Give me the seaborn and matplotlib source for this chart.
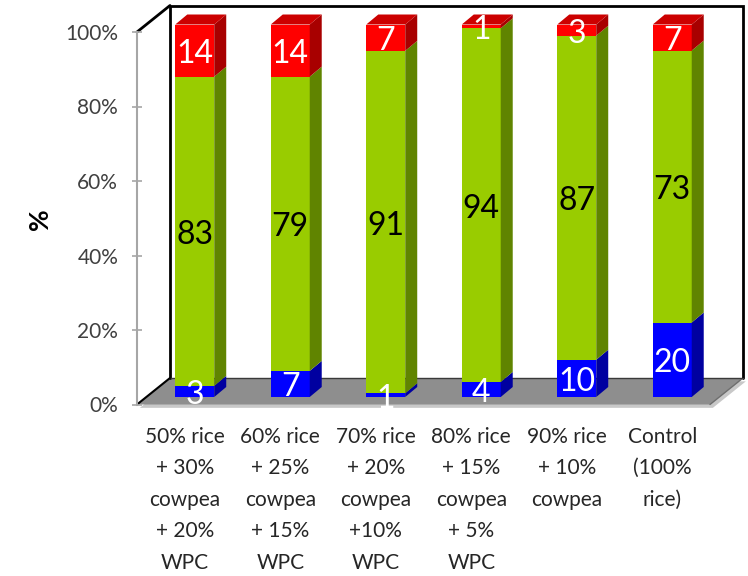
import numpy as np
import pandas as pd
import matplotlib
matplotlib.use("Agg")
import matplotlib.pyplot as plt
import seaborn as sns
from matplotlib.patches import Polygon
from matplotlib.transforms import Affine2D
from matplotlib.ticker import FuncFormatter

# ---- data ----
categories = [
    "50% rice\n+ 30%\ncowpea\n+ 20%\nWPC",
    "60% rice\n+ 25%\ncowpea\n+ 15%\nWPC",
    "70% rice\n+ 20%\ncowpea\n+10%\nWPC",
    "80% rice\n+ 15%\ncowpea\n+ 5%\nWPC",
    "90% rice\n+ 10%\ncowpea",
    "Control\n(100%\nrice)",
]
blue_vals = [3, 7, 1, 4, 10, 20]
green_vals = [83, 79, 91, 94, 87, 73]
red_vals = [14, 14, 7, 1, 3, 7]
y_ticks = [0, 20, 40, 60, 80, 100]

# ---- styling ----
sns.set_theme(style="white")
FONT = ["Lato", "DejaVu Sans"]
plt.rcParams["font.family"] = FONT

front = {"blue": "#0000FF", "green": "#99CC00", "red": "#FF0000"}
side = {"blue": "#0000A0", "green": "#608400", "red": "#A80000"}
top_col = "#CC0000"

W, H = 748, 576
fig = plt.figure(figsize=(W / 100, H / 100), dpi=100)
x0, x1 = 137, 710
y0, y1 = 404.5, 32
ax = fig.add_axes([x0 / W, (H - y0) / H, (x1 - x0) / W, (y0 - y1) / H])

b = np.array(blue_vals, float)
g = np.array(green_vals, float)
r = np.array(red_vals, float)
tot = b + g + r
pb = b / tot * 100
pg = g / tot * 100
pr = r / tot * 100

df = pd.DataFrame({"cat": categories, "top": pb + pg + pr, "mid": pb + pg, "low": pb})

bw = 0.408
for col, c in [("top", "red"), ("mid", "green"), ("low", "blue")]:
    sns.barplot(data=df, x="cat", y=col, color=front[c], saturation=1,
                width=bw, linewidth=0, ax=ax, zorder=3)

ax.set_xlim(-0.5, 5.5)
ax.set_ylim(0, 100)

# pixel -> data unit conversions
px_x = (x1 - x0) / 6.0
px_y = (y0 - y1) / 100.0
fx, fy = 10 / px_x, 7.5 / px_y          # bar front plane offset
ddx, ddy = 12 / px_x, 10 / px_y         # bar depth
wdx, wdy = 33 / px_x, 26.5 / px_y        # full floor depth
lab_dy = -3.5 / px_y                     # value label nudge

shift = Affine2D().translate(fx, fy) + ax.transData
for p in ax.patches:
    p.set_transform(shift)
    p.set_clip_on(False)

# floor, walls
floor = [(-0.5, 0), (5.5, 0), (5.5 + wdx, wdy), (-0.5 + wdx, wdy)]
shadow = [(x + 0.03, y - 0.9) for x, y in floor]
ax.add_patch(Polygon(shadow, closed=True, fc="#C8C8C8", ec="none", zorder=0.2, clip_on=False))
ax.add_patch(Polygon(floor, closed=True, fc="#8E8E8E", ec="none", zorder=0.3, clip_on=False))
ax.plot([5.5, 5.5 + wdx], [0, wdy], color="#6E6E6E", lw=1, zorder=0.35, clip_on=False)
# back wall
bx0, bx1 = -0.5 + wdx, 5.5 + wdx
ax.plot([bx0, bx0, bx1, bx1], [wdy, 100 + wdy, 100 + wdy, wdy], color="black", lw=2,
        zorder=0.4, clip_on=False, solid_joinstyle="miter")
ax.plot([bx0, bx1], [wdy, wdy], color="#3A3A3A", lw=1, zorder=0.4, clip_on=False)
# left wall edges
ax.plot([-0.5, bx0], [100, 100 + wdy], color="black", lw=2, zorder=0.4, clip_on=False)
ax.plot([-0.5, bx0], [0, wdy], color="black", lw=1.5, zorder=0.4, clip_on=False)

# side and top faces of bars, labels
for i in range(6):
    xl = i - bw / 2 + fx
    xr = i + bw / 2 + fx
    bottoms = [0, pb[i], pb[i] + pg[i]]
    heights = [pb[i], pg[i], pr[i]]
    names = ["blue", "green", "red"]
    vals = [blue_vals[i], green_vals[i], red_vals[i]]
    for bot, h, nm, v in zip(bottoms, heights, names, vals):
        ya, yb = bot + fy, bot + h + fy
        poly = [(xr, ya), (xr + ddx, ya + ddy), (xr + ddx, yb + ddy), (xr, yb)]
        ax.add_patch(Polygon(poly, closed=True, fc=side[nm], ec="none", zorder=3, clip_on=False))
        ax.text(i + fx, bot + h / 2 + fy + lab_dy, str(v), ha="center", va="center",
                fontsize=23, color="black" if nm == "green" else "white",
                zorder=5, clip_on=False, family=FONT)
    yt = 100 + fy
    ax.add_patch(Polygon([(xl, yt), (xr, yt), (xr + ddx, yt + ddy), (xl + ddx, yt + ddy)],
                         closed=True, fc=top_col, ec="none", zorder=3, clip_on=False))

# axes styling
for s in ["top", "right", "bottom"]:
    ax.spines[s].set_visible(False)
ax.spines["left"].set_color("#A6A6A6")
ax.spines["left"].set_linewidth(1.5)
ax.spines["left"].set_zorder(0.5)
ax.set_yticks(y_ticks)
ax.yaxis.set_major_formatter(FuncFormatter(lambda v, p: f"{int(v)}%"))
ax.tick_params(axis="y", direction="inout", length=7, width=1.2, color="#A6A6A6",
               labelsize=15, labelcolor="#404040", pad=10, left=True)
ax.tick_params(axis="x", length=0, labelsize=15, labelcolor="#262626", pad=16)
for lab in ax.get_xticklabels():
    lab.set_linespacing(1.72)
ax.set_xlabel("")
ax.set_ylabel("")
fig.text(40 / W, 1 - 219 / H, "%", rotation=90, ha="center", va="center",
         fontsize=19, fontweight="bold", color="black")
ax.patch.set_alpha(0)

fig.savefig("out.png", dpi=100)
